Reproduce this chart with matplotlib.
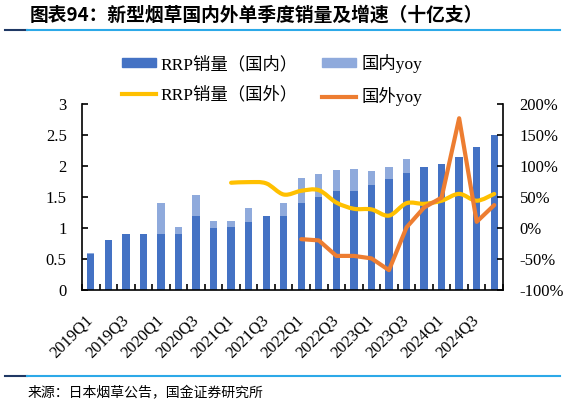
import matplotlib
matplotlib.use('Agg')
import matplotlib.pyplot as plt
from matplotlib.path import Path
from matplotlib.patches import PathPatch, Patch
from matplotlib.lines import Line2D
import numpy as np

plt.rcParams['font.family'] = ['Liberation Serif', 'Noto Sans CJK SC', 'DejaVu Sans']

quarters = ['2019Q1', '2019Q2', '2019Q3', '2019Q4', '2020Q1', '2020Q2', '2020Q3', '2020Q4',
            '2021Q1', '2021Q2', '2021Q3', '2021Q4', '2022Q1', '2022Q2', '2022Q3', '2022Q4',
            '2023Q1', '2023Q2', '2023Q3', '2023Q4', '2024Q1', '2024Q2', '2024Q3', '2024Q4']
# dark blue bars
domestic = [0.58, 0.80, 0.90, 0.90, 0.90, 0.90, 1.20, 1.00, 1.01, 1.10, 1.19, 1.19,
            1.41, 1.50, 1.60, 1.60, 1.69, 1.79, 1.89, 1.99, 2.04, 2.14, 2.31, 2.50]
# light blue stacked segment
light_extra = [0.02, 0.00, 0.00, 0.00, 0.50, 0.12, 0.33, 0.12, 0.11, 0.22, 0.00, 0.22,
               0.39, 0.37, 0.34, 0.35, 0.23, 0.20, 0.22, 0.00, 0.00, 0.01, 0.00, 0.00]
nan = np.nan
# yellow line (right axis, %)
overseas_sales = [nan, nan, nan, nan, nan, nan, nan, nan, 73, 74, 72, 54,
                  60, 61, 41, 31, 30, 20, 40, 39, 44, 55, 44, 55]
# orange line (right axis, %)
overseas_yoy = [nan, nan, nan, nan, nan, nan, nan, nan, nan, nan, nan, nan,
                -18, -20, -45, -45, -49, -68, 1, 33, 49, 177, 10, 37]

left_ticks = [0, 0.5, 1, 1.5, 2, 2.5, 3]
left_labels = ['0', '0.5', '1', '1.5', '2', '2.5', '3']
right_ticks = [-100, -50, 0, 50, 100, 150, 200]
right_labels = ['-100%', '-50%', '0%', '50%', '100%', '150%', '200%']

labels = ['RRP销量（国内）', '国内yoy', 'RRP销量（国外）', '国外yoy']
c_dark = '#4472C4'
c_light = '#8FAADC'
c_yellow = '#FFC000'
c_orange = '#ED7D31'

W, H = 563, 405
fig = plt.figure(figsize=(W / 100, H / 100), dpi=100)
ax = fig.add_axes([82 / W, 1 - 290 / H, (503 - 82) / W, (290 - 104) / H])
ax2 = ax.twinx()

x = np.arange(len(quarters))
bw = 0.42
ax.bar(x, domestic, width=bw, color=c_dark, zorder=2)
ax.bar(x, light_extra, bottom=domestic, width=bw, color=c_light, zorder=2)

ax.set_xlim(-0.5, len(quarters) - 0.5)
ax.set_ylim(0, 3)
ax.set_yticks(left_ticks)
ax.set_yticklabels(left_labels)
ax2.set_ylim(-100, 200)
ax2.set_yticks(right_ticks)
ax2.set_yticklabels(right_labels)

for a in (ax, ax2):
    a.spines['top'].set_visible(False)
    for s in a.spines.values():
        s.set_linewidth(1.2)
        s.set_color('black')
ax.spines['right'].set_visible(False)
ax2.spines['left'].set_visible(False)
ax2.spines['bottom'].set_visible(False)

ax.tick_params(axis='y', direction='in', length=4, width=1.2, pad=11, labelsize=12)
ax2.tick_params(axis='y', direction='in', length=4, width=1.2, pad=12, labelsize=12)

ax.set_xticks(x[::2])
ax.set_xticklabels(quarters[::2], rotation=45, ha='right', va='center',
                   rotation_mode='anchor', fontsize=12)
ax.set_xticks(np.arange(-0.5, len(quarters), 1), minor=True)
ax.tick_params(axis='x', which='major', length=0, pad=20)
ax.tick_params(axis='x', which='minor', direction='in', length=4, width=1.2)

# smoothed yellow line (Bezier through data points)
ys = np.array(overseas_sales, dtype=float)
valid = ~np.isnan(ys)
px = x[valid].astype(float)
py = ys[valid]
verts = [(px[0], py[0])]
codes = [Path.MOVETO]
n = len(px)
for i in range(n - 1):
    p0 = np.array([px[max(i - 1, 0)], py[max(i - 1, 0)]])
    p1 = np.array([px[i], py[i]])
    p2 = np.array([px[i + 1], py[i + 1]])
    p3 = np.array([px[min(i + 2, n - 1)], py[min(i + 2, n - 1)]])
    c1 = p1 + (p2 - p0) / 6
    c2 = p2 - (p3 - p1) / 6
    verts += [tuple(c1), tuple(c2), tuple(p2)]
    codes += [Path.CURVE4] * 3
ax2.add_patch(PathPatch(Path(verts, codes), facecolor='none', edgecolor=c_yellow,
                        lw=3, capstyle='round', joinstyle='round', zorder=3))

ax2.plot(x, overseas_yoy, color=c_orange, lw=3, solid_capstyle='round', zorder=4)

handles = [Patch(color=c_dark), Line2D([], [], color=c_yellow, lw=3),
           Patch(color=c_light), Line2D([], [], color=c_orange, lw=3)]
leg_labels = [labels[0], labels[2], labels[1], labels[3]]
fig.legend(handles, leg_labels, loc='center', bbox_to_anchor=(272 / W, 1 - 80 / H),
           ncol=2, frameon=False, fontsize=12.5, handlelength=1.95, handleheight=0.4,
           handletextpad=0.3, columnspacing=1.4, labelspacing=0.8)

fig.text(30 / W, 1 - 15 / H, '图表94：新型烟草国内外单季度销量及增速（十亿支）',
         fontsize=13.5, fontweight='bold', va='center', ha='left',
         family=['Noto Sans CJK SC', 'DejaVu Sans'])
fig.add_artist(Line2D([5 / W, 27 / W], [1 - 30 / H] * 2, color='#1F3864', lw=1.5))
fig.add_artist(Line2D([27 / W, 560 / W], [1 - 30 / H] * 2, color='#2CA9E8', lw=1.5))
fig.add_artist(Line2D([5 / W, 27 / W], [1 - 376 / H] * 2, color='#1F3864', lw=1.5))
fig.add_artist(Line2D([27 / W, 560 / W], [1 - 376 / H] * 2, color='#2CA9E8', lw=1.5))
fig.text(28 / W, 1 - 393 / H, '来源：日本烟草公告，国金证券研究所', fontsize=10,
         va='center', ha='left', family=['Noto Sans CJK SC', 'DejaVu Sans'])

fig.savefig('out.png', dpi=100)
